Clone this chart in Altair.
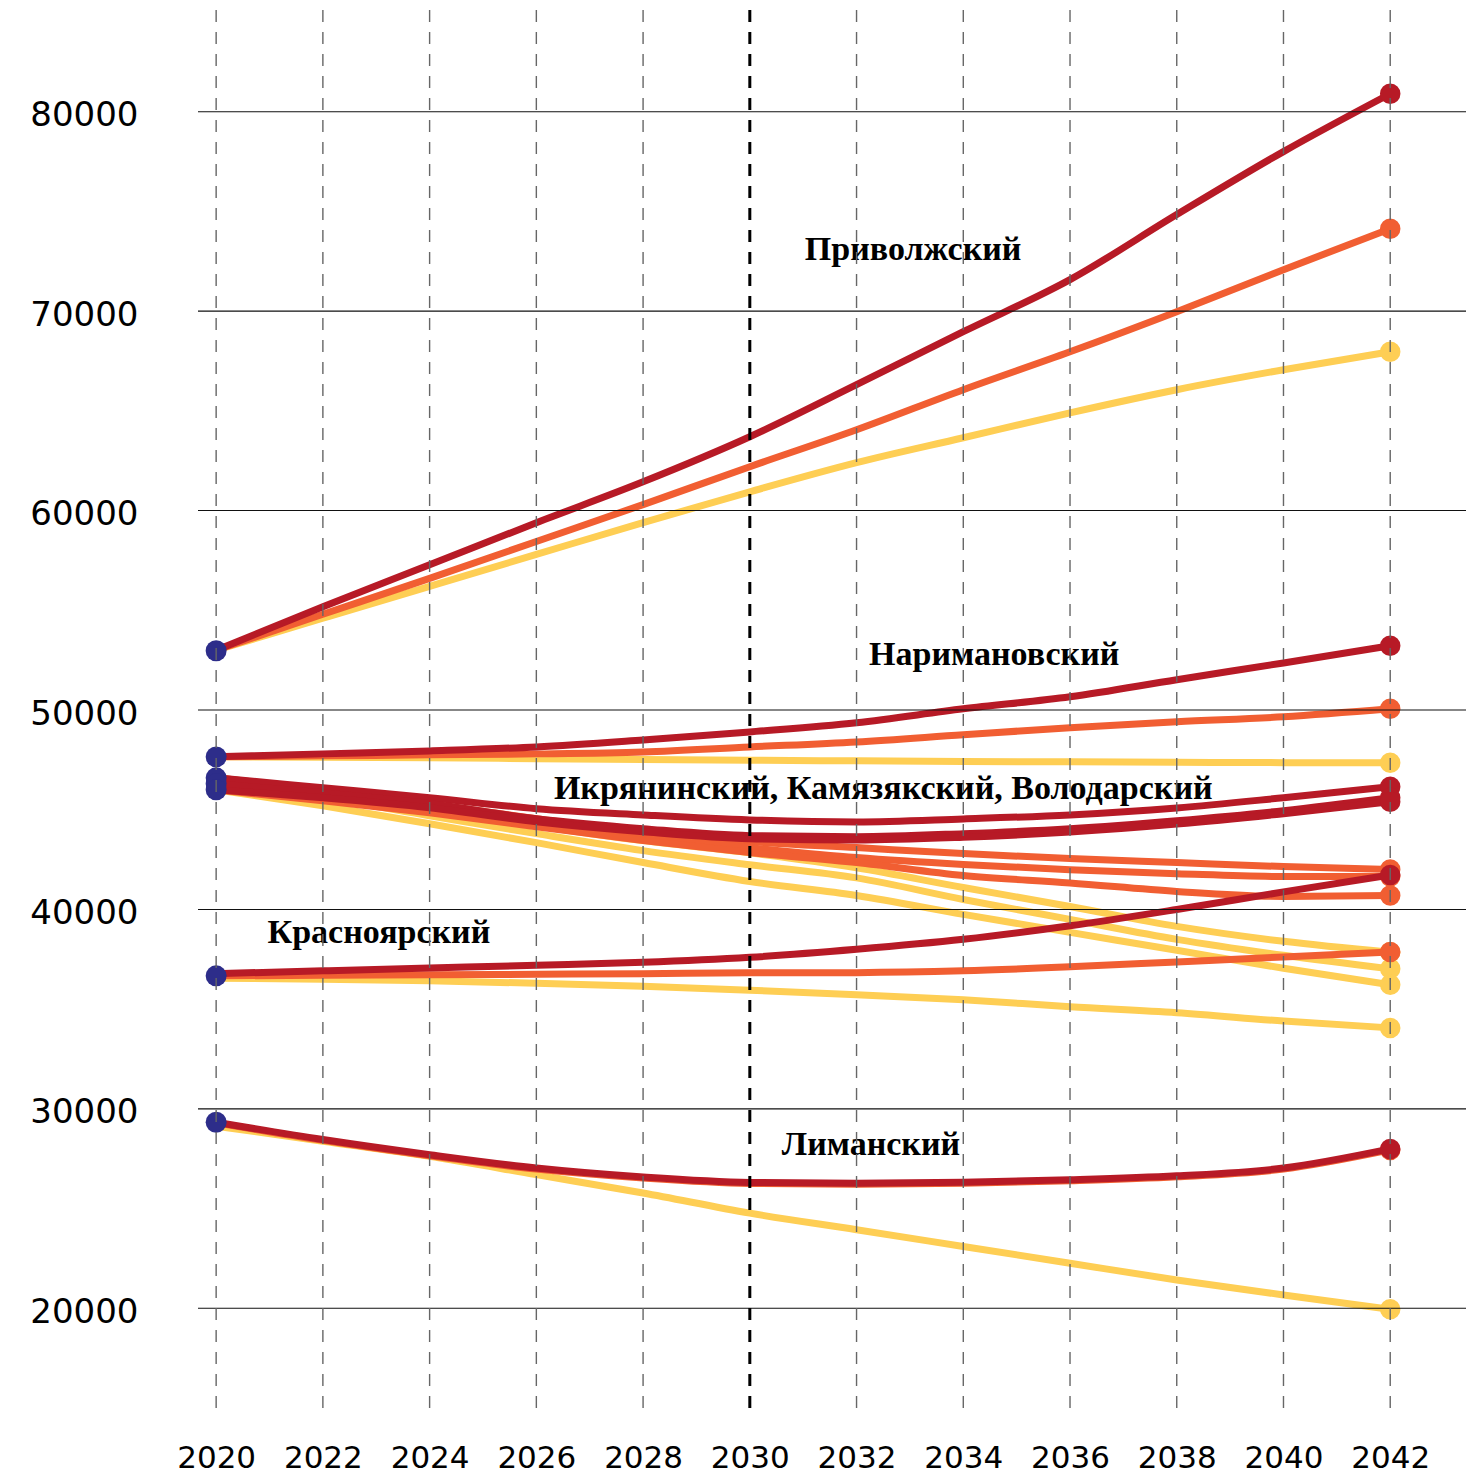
import altair as alt
import pandas as pd

years = [2020, 2022, 2024, 2026, 2028, 2030, 2032, 2034, 2036, 2038, 2040, 2042]
scenarios = ["Сценарий 1", "Сценарий 2", "Сценарий 3"]
scenario_colors = ["#FECE54", "#F15E32", "#B71A26"]
start_color = "#2D2D8A"

districts = ["Приволжский", "Наримановский", "Икрянинский", "Камязякский",
             "Володарский", "Красноярский", "Лиманский"]

privolzh_s1 = [53000, 54600, 56200, 57800, 59400, 60940, 62400, 63650, 64900, 66060, 67060, 67960]
privolzh_s2 = [53000, 54800, 56600, 58450, 60300, 62200, 64050, 66060, 67960, 69970, 72080, 74130]
privolzh_s3 = [53000, 55180, 57280, 59390, 61440, 63700, 66310, 68970, 71580, 74840, 78000, 80900]

nariman_s1 = [47650, 47630, 47600, 47560, 47520, 47480, 47450, 47420, 47400, 47380, 47360, 47350]
nariman_s2 = [47650, 47700, 47750, 47800, 47900, 48150, 48400, 48760, 49110, 49410, 49660, 50060]
nariman_s3 = [47650, 47800, 47950, 48150, 48500, 48900, 49360, 50060, 50660, 51520, 52360, 53220]

ikryan_s1 = [46600, 45900, 45050, 44200, 43450, 42840, 42090, 41100, 40150, 39150, 38400, 37850]
ikryan_s2 = [46600, 46000, 45300, 44550, 43900, 43400, 43100, 42800, 42550, 42350, 42150, 42000]
ikryan_s3 = [46600, 46100, 45600, 45050, 44740, 44490, 44390, 44540, 44740, 45090, 45600, 46150]

kamyz_s1 = [46300, 45600, 44700, 43800, 42950, 42240, 41580, 40500, 39500, 38500, 37700, 37020]
kamyz_s2 = [46300, 45750, 45050, 44300, 43650, 43100, 42600, 42250, 41990, 41790, 41650, 41650]
kamyz_s3 = [46300, 45850, 45300, 44550, 44050, 43700, 43650, 43800, 44050, 44450, 44950, 45600]

volod_s1 = [46000, 45200, 44300, 43350, 42350, 41400, 40700, 39750, 38850, 37950, 37050, 36220]
volod_s2 = [46000, 45450, 44850, 44150, 43450, 42850, 42350, 41700, 41330, 40900, 40650, 40700]
volod_s3 = [46000, 45600, 45100, 44400, 43900, 43550, 43480, 43620, 43880, 44280, 44800, 45400]

krasn_s1 = [36550, 36500, 36420, 36300, 36150, 35950, 35720, 35470, 35120, 34820, 34400, 34060]
krasn_s2 = [36670, 36700, 36720, 36750, 36780, 36820, 36830, 36920, 37120, 37370, 37620, 37870]
krasn_s3 = [36780, 36920, 37060, 37200, 37350, 37600, 38000, 38500, 39180, 40000, 40880, 41730]

liman_s1 = [29130, 28380, 27620, 26700, 25780, 24770, 23940, 23100, 22260, 21420, 20670, 19950]
liman_s2 = [29300, 28420, 27650, 26980, 26530, 26260, 26220, 26270, 26390, 26590, 26980, 27940]
liman_s3 = [29330, 28460, 27700, 27030, 26580, 26310, 26270, 26320, 26440, 26640, 27030, 27990]

start_values = [52970, 47650, 46600, 46300, 46000, 36670, 29330]

label_texts = ["Приволжский", "Наримановский", "Икрянинский, Камязякский, Володарский",
               "Красноярский", "Лиманский"]
label_years = [2033.06, 2034.58, 2032.5, 2023.05, 2032.27]
label_values = [73080, 52770, 46050, 38830, 28200]

y_ticks = [20000, 30000, 40000, 50000, 60000, 70000, 80000]
milestone_year = 2030

series = {
    "Приволжский": [privolzh_s1, privolzh_s2, privolzh_s3],
    "Наримановский": [nariman_s1, nariman_s2, nariman_s3],
    "Икрянинский": [ikryan_s1, ikryan_s2, ikryan_s3],
    "Камязякский": [kamyz_s1, kamyz_s2, kamyz_s3],
    "Володарский": [volod_s1, volod_s2, volod_s3],
    "Красноярский": [krasn_s1, krasn_s2, krasn_s3],
    "Лиманский": [liman_s1, liman_s2, liman_s3],
}

rows = []
for d in districts:
    for s, vals in zip(scenarios, series[d]):
        for yr, v in zip(years, vals):
            rows.append({"district": d, "scenario": s, "year": yr, "value": v})
df = pd.DataFrame(rows)

start_df = pd.DataFrame({"district": districts, "year": [years[0]] * len(districts),
                         "value": start_values})
label_df = pd.DataFrame({"text": label_texts, "year": label_years, "value": label_values})
vgrid_df = pd.DataFrame({"year": [y for y in years if y != milestone_year]})
hgrid_df = pd.DataFrame({"value": y_ticks})

W, H = 1268, 1400

x_scale = alt.Scale(domain=[2019.66, 2043.42], nice=False, zero=False)
y_scale = alt.Scale(domain=[14900, 85100], nice=False, zero=False)

x_enc = alt.X("year:Q", scale=x_scale,
              axis=alt.Axis(values=years, format="d", title=None, domain=False, ticks=False,
                            grid=False,
                            labelFont="DejaVu Sans", labelFontSize=31, labelColor="#000",
                            labelPadding=33, labelFlush=False))
y_enc = alt.Y("value:Q", scale=y_scale,
              axis=alt.Axis(values=y_ticks, format="d", title=None, domain=False, ticks=False,
                            grid=False,
                            labelFont="DejaVu Sans", labelFontSize=34, labelColor="#000",
                            labelPadding=60, labelAlign="right", labelOffset=4))

layers = []
for s, c in zip(scenarios, scenario_colors):
    sub = df[df["scenario"] == s]
    layers.append(
        alt.Chart(sub).mark_line(interpolate="monotone", strokeWidth=7, color=c,
                                 strokeCap="round").encode(
            x=x_enc, y=y_enc, detail="district:N")
    )
    end = sub[sub["year"] == years[-1]]
    layers.append(
        alt.Chart(end).mark_circle(size=420, opacity=1, color=c).encode(x=x_enc, y=y_enc)
    )

layers.append(
    alt.Chart(start_df).mark_circle(size=440, opacity=1, color=start_color).encode(x=x_enc, y=y_enc)
)

layers.append(
    alt.Chart(label_df).mark_text(font="Liberation Serif", fontWeight="bold", fontSize=34,
                                  align="center", baseline="middle", color="#000").encode(
        x=x_enc, y=y_enc, text="text:N")
)

# grid lines drawn above the data, as in the reference
layers.append(
    alt.Chart(hgrid_df).mark_rule(color="#111", strokeWidth=1.1).encode(y=y_enc)
)
layers.append(
    alt.Chart(vgrid_df).mark_rule(color="#666", strokeWidth=1.4, strokeDash=[12, 10]).encode(x=x_enc)
)
layers.append(
    alt.Chart(pd.DataFrame({"year": [milestone_year]})).mark_rule(
        color="#000", strokeWidth=3, strokeDash=[12, 10]).encode(x=x_enc)
)

chart = alt.layer(*layers).properties(
    width=W, height=H,
    autosize=alt.AutoSizeParams(type="none"),
    padding={"left": 190, "top": 2, "right": 2, "bottom": 64},
    background="white",
).configure_view(strokeWidth=0, stroke="transparent")

chart.save("out.html", embed_options={"renderer": "svg", "actions": False})
